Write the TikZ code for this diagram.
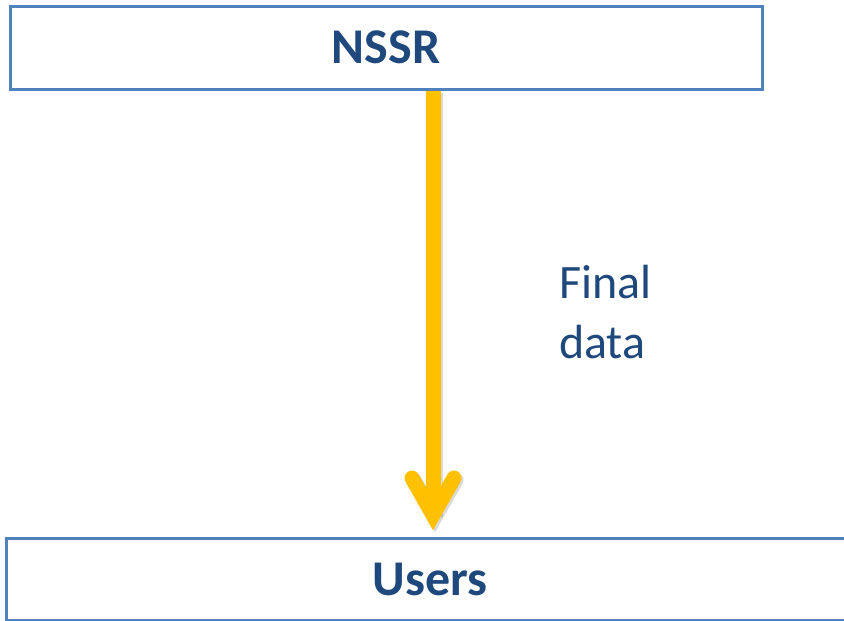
\documentclass[tikz,border=0pt]{standalone}
\usepackage{fontspec}
\setmainfont{Carlito}
\definecolor{boxblue}{HTML}{4F81BD}
\definecolor{textblue}{HTML}{1F497D}
\definecolor{arrowgold}{HTML}{FFC000}
\tikzset{
    block/.style = {draw = boxblue, line width = 3pt, inner sep = 0pt,
        text = textblue, font = \fontsize{50}{60}\selectfont\bfseries},
    flow/.style = {draw = arrowgold, line width = 15pt},
}
\begin{document}
\begin{tikzpicture}[x = 1pt, y = -1pt]
        \useasboundingbox (0,0) rectangle (844,621);

        \node [block, minimum width = 752pt, minimum height = 83pt] (nssr) at (386, 47.5) {NSSR};
        \node [block, minimum width = 848pt, minimum height = 82pt] (users) at (430, 579) {Users};

        \coordinate (tip) at (433, 515);
        \draw [flow, draw = black, opacity = 0.15] ([shift = {(2,2)}]nssr.south -| tip) -- ([shift = {(2,2)}]tip);
        \draw [flow, draw = black, opacity = 0.15, line cap = round, line join = miter]
            ([shift = {(-19,-35)}]tip) -- ([shift = {(2,2)}]tip) -- ([shift = {(23,-35)}]tip);
        \draw [flow] (nssr.south -| tip) -- (tip);
        \draw [flow, line cap = round, line join = miter] ([shift = {(-21,-37)}]tip) -- (tip) -- ([shift = {(21,-37)}]tip);

        \node at (559, 265) [anchor = north west, inner sep = 0pt, align = left, text = textblue,
            font = \fontsize{48}{60}\selectfont] (label) {Final\\data};
    \end{tikzpicture}
\end{document}
